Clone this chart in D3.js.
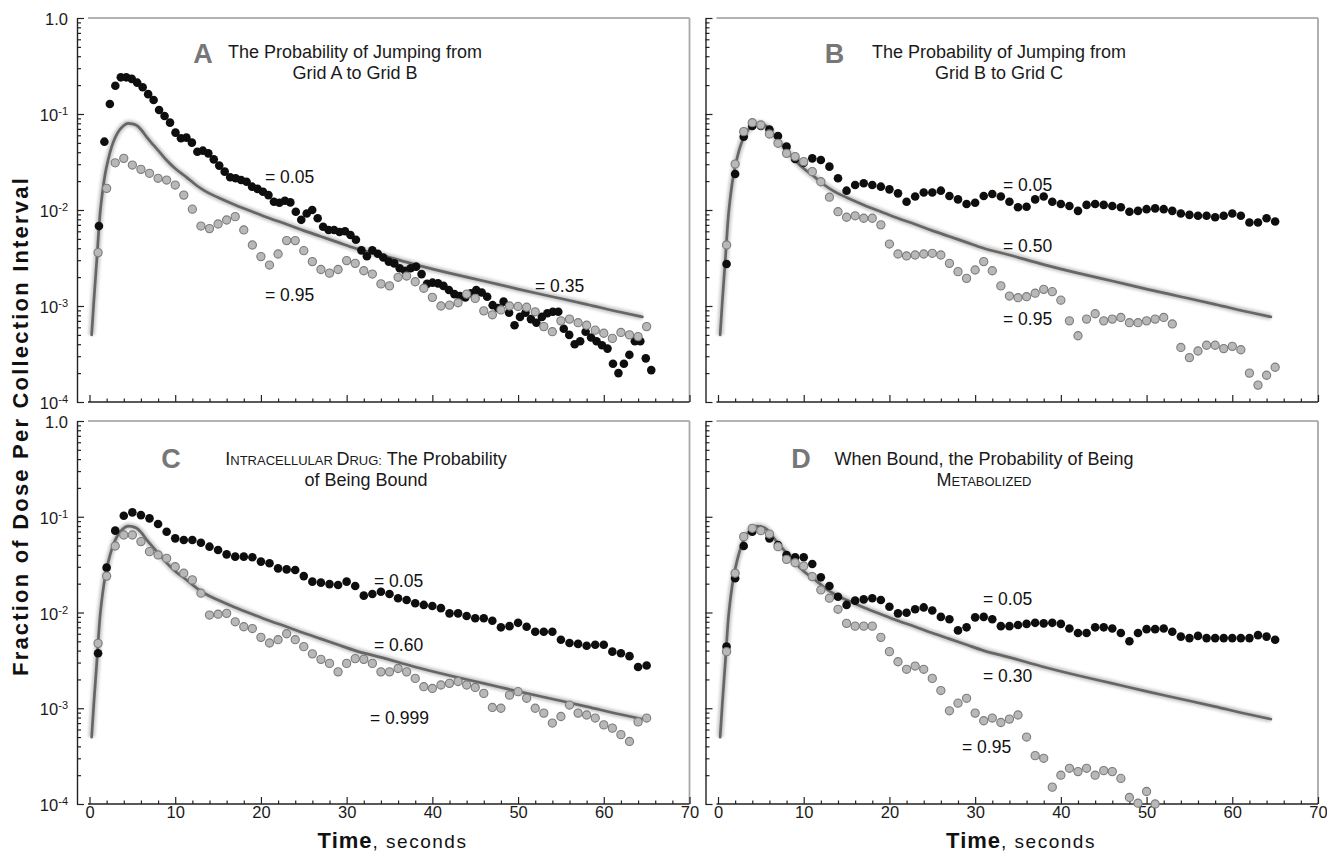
<!DOCTYPE html>
<html>
<head>
<meta charset="utf-8">
<script src="https://cdn.jsdelivr.net/npm/d3@7"></script>
<style>
body { margin: 0; background: #fff; }
svg { display: block; font-family: "Liberation Sans", Arial, sans-serif; }
</style>
</head>
<body>
<svg id="chart" width="1327" height="852"></svg>
<script>
// model curve (same in every panel)
const curveT = [0.25, 0.5, 0.85, 1.2, 1.5, 1.8, 2.2, 2.6, 3.0, 3.5, 4.0, 4.5, 5.0, 5.5, 6.0, 6.7, 7.5, 8.4, 9.0, 10.0,
  11.3, 12.5, 13.5, 15.0, 17, 19, 21, 23, 25, 27, 29, 31, 34, 38, 42, 46, 50, 54, 58, 62, 64.5];
const curveV = [0.0005, 0.0011, 0.003, 0.0085, 0.015, 0.023, 0.034, 0.046, 0.057, 0.068, 0.076, 0.080, 0.079, 0.076, 0.069, 0.057, 0.047, 0.038, 0.033, 0.027,
  0.022, 0.018, 0.0157, 0.0135, 0.0113, 0.0096, 0.0082, 0.0071, 0.0061, 0.0053, 0.0046, 0.0040, 0.0034, 0.0027, 0.0022, 0.00182, 0.0015, 0.00125, 0.00104, 0.00086, 0.00077];

// panel A, black series has a finer collection interval
const aBlackStart = 1.1, aBlackStep = 0.638;
const aBlack = [0.0068, 0.0515, 0.127, 0.197, 0.241, 0.241, 0.232, 0.212, 0.19, 0.161,
  0.14, 0.110, 0.0953, 0.0813, 0.064, 0.0558, 0.0567, 0.0503, 0.0405, 0.0415,
  0.0389, 0.0337, 0.029, 0.0251, 0.0219, 0.0214, 0.0205, 0.0197, 0.0175, 0.0166,
  0.0155, 0.0143, 0.0122, 0.0119, 0.0125, 0.012, 0.0096, 0.0079, 0.0092, 0.01,
  0.0082, 0.0067, 0.0062, 0.0062, 0.0059, 0.006, 0.0055, 0.0049, 0.0038, 0.0033,
  0.0038, 0.0035, 0.0032, 0.0029,
  0.00278, 0.00247, 0.00233, 0.00247, 0.00257, 0.00215, 0.0017, 0.00175, 0.00172, 0.00162,
  0.00147, 0.00133, 0.00127, 0.00123, 0.00136, 0.00147, 0.00138, 0.00125, 0.00102, 0.00095,
  0.00111, 0.00085, 0.00063, 0.00077, 0.00085, 0.00073, 0.00067, 0.00077, 0.00084, 0.00087,
  0.00087, 0.00058, 0.0005, 0.0004, 0.00043, 0.00054, 0.00047, 0.00043, 0.00039, 0.00036,
  0.00025, 0.0002, 0.00025, 0.00031, 0.00043, 0.00043, 0.000285, 0.000215];
const aGray = [0.0036, 0.0168, 0.031, 0.0345, 0.0294, 0.0265, 0.0241, 0.0214, 0.0205, 0.0182,
  0.0143, 0.0102, 0.0068, 0.0064, 0.00715, 0.00787, 0.00853, 0.0062, 0.00432, 0.00327,
  0.00267, 0.00348, 0.0048, 0.0048, 0.00377, 0.0029, 0.0024, 0.0022, 0.0024, 0.00297,
  0.00278, 0.00233, 0.00215, 0.0017, 0.00162, 0.00199, 0.00205, 0.00179, 0.00153, 0.00123,
  0.0010, 0.00102, 0.00108, 0.00133, 0.0012, 0.00089, 0.00081, 0.00091, 0.0010, 0.00099,
  0.00097, 0.00087, 0.00061, 0.00054, 0.0007, 0.00073, 0.00067, 0.00063, 0.00056, 0.00052,
  0.00046, 0.00053, 0.0005, 0.00048, 0.00061];

// panels B, C, D: one point per second starting at t = 1
const bBlack = [0.00274, 0.0237, 0.058, 0.075, 0.075, 0.069, 0.059, 0.0457, 0.034, 0.031,
  0.0345, 0.0332, 0.0283, 0.0214, 0.0159, 0.0182, 0.019, 0.0182, 0.0175, 0.0164,
  0.0149, 0.0122, 0.0138, 0.0152, 0.0152, 0.0159, 0.014, 0.0129, 0.01155, 0.0119,
  0.014, 0.0147, 0.0138, 0.0122, 0.0107, 0.0108, 0.0129, 0.0138, 0.0122, 0.01155,
  0.011, 0.0098, 0.0113, 0.01155, 0.0113, 0.011, 0.0107, 0.0096, 0.0098, 0.0102,
  0.0104, 0.0102, 0.0098, 0.0092, 0.0089, 0.0087, 0.0087, 0.0084, 0.0087, 0.0092,
  0.0087, 0.0074, 0.0074, 0.0082, 0.0076];
const bGray = [0.00432, 0.0301, 0.0655, 0.0812, 0.0768, 0.0619, 0.0495, 0.0389, 0.036, 0.0319,
  0.0251, 0.0197, 0.0136, 0.0096, 0.0084, 0.0087, 0.0082, 0.0082, 0.0070, 0.00442,
  0.00348, 0.00332, 0.0034, 0.00348, 0.00354, 0.0034, 0.00278, 0.00228, 0.00194, 0.00237,
  0.0029, 0.00233, 0.00162, 0.00127, 0.00122, 0.00125, 0.00136, 0.00149, 0.00141, 0.00115,
  0.0007, 0.00049, 0.00073, 0.00083, 0.0007, 0.00073, 0.00076, 0.00067, 0.00067, 0.0007,
  0.00073, 0.00076, 0.00065, 0.00037, 0.00029, 0.00034, 0.00039, 0.00039, 0.00036, 0.00038,
  0.00035, 0.0002, 0.00015, 0.00019, 0.00023];
const cBlack = [0.00375, 0.0294, 0.0716, 0.1026, 0.111, 0.104, 0.0962, 0.084, 0.0698, 0.0595,
  0.0572, 0.0572, 0.0536, 0.0487, 0.045, 0.0405, 0.0383, 0.0383, 0.0377, 0.034,
  0.0327, 0.0289, 0.0282, 0.0278, 0.024, 0.021, 0.0205, 0.0198, 0.0194, 0.021,
  0.0189, 0.015, 0.0156, 0.0165, 0.0156, 0.0141, 0.0135, 0.0125, 0.012, 0.0117,
  0.0111, 0.0098, 0.0098, 0.0092, 0.0087, 0.0087, 0.0082, 0.007, 0.0072, 0.0078,
  0.0071, 0.0063, 0.0063, 0.0063, 0.0052, 0.0048, 0.0047, 0.0045, 0.0046, 0.0046,
  0.0039, 0.00375, 0.0035, 0.0027, 0.0028];
const cGray = [0.00476, 0.024, 0.0495, 0.0645, 0.0645, 0.055, 0.0432, 0.0399, 0.0368, 0.0301,
  0.0257, 0.0219, 0.0159, 0.0094, 0.0096, 0.0098, 0.008, 0.0071, 0.0068, 0.0055,
  0.0048, 0.0052, 0.006, 0.0052, 0.0044, 0.0037, 0.00324, 0.00294, 0.0024, 0.00294,
  0.0033, 0.00324, 0.00294, 0.0024, 0.0024, 0.0026, 0.0024, 0.00205, 0.00168, 0.00161,
  0.00175, 0.00182, 0.0019, 0.00175, 0.00165, 0.00143, 0.00102, 0.001, 0.00137, 0.00149,
  0.00127, 0.001, 0.00089, 0.0007, 0.00082, 0.00108, 0.00089, 0.00085, 0.00079, 0.00067,
  0.00062, 0.00053, 0.00045, 0.00072, 0.00079];
const dBlack = [0.0044, 0.0228, 0.0495, 0.0698, 0.0727, 0.0595, 0.0507, 0.0399, 0.0377, 0.0377,
  0.0321, 0.0233, 0.0189, 0.0146, 0.012, 0.0133, 0.0137, 0.0141, 0.0135, 0.0115,
  0.0098, 0.00995, 0.0108, 0.0113, 0.0105, 0.009, 0.0085, 0.0065, 0.007, 0.0089,
  0.009, 0.0085, 0.0072, 0.0072, 0.0074, 0.0076, 0.0078, 0.0077, 0.0078, 0.0076,
  0.0068, 0.0061, 0.0061, 0.007, 0.007, 0.0068, 0.0061, 0.005, 0.0061, 0.0067,
  0.0067, 0.0068, 0.0063, 0.0056, 0.0054, 0.0057, 0.0054, 0.0054, 0.0054, 0.0054,
  0.0054, 0.0054, 0.0058, 0.0056, 0.0052];
const dGray = [0.0039, 0.0257, 0.062, 0.0757, 0.0716, 0.066, 0.0487, 0.0359, 0.0331, 0.0306,
  0.0237, 0.0172, 0.0141, 0.0108, 0.0077, 0.0072, 0.0072, 0.0072, 0.0055, 0.0039,
  0.00306, 0.00255, 0.00276, 0.00255, 0.00205, 0.00153, 0.00094, 0.00113, 0.00127, 0.00089,
  0.00074, 0.00079, 0.00071, 0.00077, 0.00085, 0.0005, 0.00032, 0.0003, 0.00015, 0.0002,
  0.000236, 0.000218, 0.000236, 0.0002, 0.000223, 0.000218, 0.000185, 0.000117, 0.000102, 0.000135,
  0.0001];

const yTicks = [1, 0.1, 0.01, 0.001, 0.0001];
const xTicks = [0, 10, 20, 30, 40, 50, 60, 70];

const panelLetters = ["A", "B", "C", "D"];
// title lines; second value 1 marks small-caps pieces
const panelTitles = [
  [[["The Probability of Jumping from", 0]], [["Grid A to Grid B", 0]]],
  [[["The Probability of Jumping from", 0]], [["Grid B to Grid C", 0]]],
  [[["I", 0], ["NTRACELLULAR ", 1], ["D", 0], ["RUG:", 1], [" The Probability", 0]], [["of Being Bound", 0]]],
  [[["When Bound, the Probability of Being", 0]], [["M", 0], ["ETABOLIZED", 1]]]
];
const panelNotes = [
  ["= 0.05", "= 0.95", "= 0.35"],
  ["= 0.05", "= 0.50", "= 0.95"],
  ["= 0.05", "= 0.60", "= 0.999"],
  ["= 0.05", "= 0.30", "= 0.95"]
];

// layout (pixels)
const layout = [
  {x0: 89.5, top: 18, bottom: 402, left: true, low: false, letterX: 203, letterY: 63, titleX: 355, titleY: 57.5,
   notes: [[265, 183], [265, 301], [535, 292]]},
  {x0: 718, top: 18, bottom: 402, left: false, low: false, letterX: 834.5, letterY: 63, titleX: 999, titleY: 57.5,
   notes: [[1003, 191], [1003, 252], [1003, 325]]},
  {x0: 89.5, top: 421, bottom: 804, left: true, low: true, letterX: 171, letterY: 468, titleX: 366, titleY: 464.5,
   notes: [[374, 587], [374, 651], [370, 724]]},
  {x0: 718, top: 421, bottom: 804, left: false, low: true, letterX: 801, letterY: 468, titleX: 984, titleY: 464.5,
   notes: [[983, 605], [983, 682], [962, 753]]}
];
const plotW = 600;

const series = [
  {black: aBlack.map((v, i) => [aBlackStart + i * aBlackStep, v]), gray: aGray.map((v, i) => [i + 1, v])},
  {black: bBlack.map((v, i) => [i + 1, v]), gray: bGray.map((v, i) => [i + 1, v])},
  {black: cBlack.map((v, i) => [i + 1, v]), gray: cGray.map((v, i) => [i + 1, v])},
  {black: dBlack.map((v, i) => [i + 1, v]), gray: dGray.map((v, i) => [i + 1, v])}
];
const curve = curveT.map((t, i) => [t, curveV[i]]);

const svg = d3.select("#chart");
const defs = svg.append("defs");
defs.append("filter").attr("id", "soft").attr("x", "-10%").attr("y", "-10%").attr("width", "120%").attr("height", "120%")
  .append("feGaussianBlur").attr("stdDeviation", 1.8);

const minorY = [];
[1e-4, 1e-3, 1e-2, 1e-1].forEach(d => { for (let k = 2; k <= 9; k++) minorY.push(d * k); });
const minorX = d3.range(2, 70, 2).filter(v => v % 10 !== 0);

function styleAxis(g) {
  g.attr("font-family", null).attr("font-size", null);
  g.selectAll("line").attr("stroke", "#222").attr("stroke-width", 1.2);
}

layout.forEach(function(L, pi) {
  const x = d3.scaleLinear().domain([0, 70]).range([L.x0, L.x0 + plotW]);
  const y = d3.scaleLog().domain([1e-4, 1]).range([L.bottom, L.top]);
  const axisX = L.x0 - 12.5;
  const g = svg.append("g");

  // frame
  g.append("line").attr("x1", L.x0 - 1.5).attr("x2", L.x0 + plotW).attr("y1", L.top).attr("y2", L.top)
    .attr("stroke", "#9a9a9a").attr("stroke-width", 1.5);
  g.append("line").attr("x1", L.x0 + plotW).attr("x2", L.x0 + plotW).attr("y1", L.top).attr("y2", L.bottom)
    .attr("stroke", "#a8a8a8").attr("stroke-width", 1.8);
  g.append("line").attr("x1", L.x0 - 1.5).attr("x2", L.x0 + plotW).attr("y1", L.bottom).attr("y2", L.bottom)
    .attr("stroke", "#222").attr("stroke-width", 1.5);

  // y axis
  const yAx = g.append("g").attr("transform", `translate(${axisX},0)`)
    .call(d3.axisLeft(y).tickValues(yTicks).tickSizeInner(-7).tickSizeOuter(0).tickPadding(9)
      .tickFormat(L.left ? (d => d) : () => ""));
  styleAxis(yAx);
  yAx.select(".domain").attr("stroke", "#222").attr("stroke-width", 1.4);
  if (L.left) {
    yAx.selectAll(".tick text").each(function(d) {
      const t = d3.select(this).text("").attr("font-size", "16.5px").attr("fill", "#1a1a1a").attr("dy", "0.4em");
      if (d === 1) { t.text("1.0"); return; }
      t.append("tspan").text("10");
      t.append("tspan").attr("dy", "-0.55em").attr("font-size", "11px").text(String(Math.round(Math.log10(d))));
    });
  }
  const yMin = g.append("g").attr("transform", `translate(${axisX},0)`)
    .call(d3.axisLeft(y).tickValues(minorY).tickSizeInner(-4).tickSizeOuter(0).tickFormat(() => ""));
  styleAxis(yMin);
  yMin.select(".domain").remove();

  // x axis
  const xAx = g.append("g").attr("transform", `translate(0,${L.bottom})`)
    .call(d3.axisBottom(x).tickValues(xTicks).tickSizeInner(-7).tickSizeOuter(0).tickPadding(2)
      .tickFormat(L.low ? d3.format("d") : () => ""));
  styleAxis(xAx);
  xAx.select(".domain").remove();
  xAx.selectAll(".tick text").attr("font-size", "16.5px").attr("fill", "#1a1a1a");
  const xMin = g.append("g").attr("transform", `translate(0,${L.bottom})`)
    .call(d3.axisBottom(x).tickValues(minorX).tickSizeInner(-3.5).tickSizeOuter(0).tickFormat(() => ""));
  styleAxis(xMin);
  xMin.select(".domain").remove();

  // model curve
  const line = d3.line().x(d => x(d[0])).y(d => y(d[1])).curve(d3.curveMonotoneX);
  g.append("path").datum(curve).attr("d", line).attr("fill", "none")
    .attr("stroke", "#a0a0a0").attr("stroke-width", 6.5).attr("opacity", 0.6).attr("filter", "url(#soft)");
  g.append("path").datum(curve).attr("d", line).attr("fill", "none")
    .attr("stroke", "#666").attr("stroke-width", 2.7).attr("stroke-linecap", "round");

  // dots
  g.append("g").selectAll("circle").data(series[pi].black).join("circle")
    .attr("cx", d => x(d[0])).attr("cy", d => y(d[1])).attr("r", 4.3)
    .attr("fill", "#0e0e0e");
  g.append("g").selectAll("circle").data(series[pi].gray).join("circle")
    .attr("cx", d => x(d[0])).attr("cy", d => y(d[1])).attr("r", 4.1)
    .attr("fill", "#b8b8b8").attr("stroke", "#7c7c7c").attr("stroke-width", 1.1);

  // panel letter and title
  g.append("text").attr("x", L.letterX).attr("y", L.letterY).attr("text-anchor", "middle")
    .attr("font-size", "27px").attr("font-weight", "bold").attr("fill", "#777").text(panelLetters[pi]);
  panelTitles[pi].forEach(function(lineParts, li) {
    const t = g.append("text").attr("x", L.titleX).attr("y", L.titleY + li * 21)
      .attr("text-anchor", "middle").attr("font-size", "18px").attr("fill", "#1a1a1a");
    lineParts.forEach(p => t.append("tspan").attr("font-size", p[1] ? "13px" : null).text(p[0]));
  });

  // value notes
  panelNotes[pi].forEach(function(txt, ni) {
    g.append("text").attr("x", L.notes[ni][0]).attr("y", L.notes[ni][1])
      .attr("font-size", "17.5px").attr("fill", "#111").text(txt);
  });

  // x title on lower panels
  if (L.low) {
    const t = g.append("text").attr("x", L.x0 + 303).attr("y", 848).attr("text-anchor", "middle").attr("fill", "#111");
    t.append("tspan").attr("font-size", "22px").attr("font-weight", "bold").attr("letter-spacing", "1px").text("Time");
    t.append("tspan").attr("font-size", "19px").attr("letter-spacing", "1.5px").text(", seconds");
  }
});

svg.append("text").attr("transform", "translate(28,426) rotate(-90)").attr("text-anchor", "middle")
  .attr("font-size", "22px").attr("font-weight", "bold").attr("letter-spacing", "2.2px").attr("fill", "#111")
  .text("Fraction of Dose Per Collection Interval");
</script>
</body>
</html>
